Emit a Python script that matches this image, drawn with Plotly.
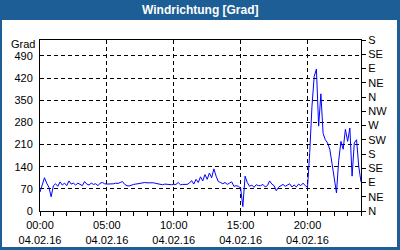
import pandas as pd
import plotly.graph_objects as go

# Wind direction (degrees), 10-minute samples, 04.02.16 00:00 .. 05.02.16 00:00
times = pd.date_range("2016-02-04 00:00", periods=145, freq="10min")
direction = [
    60, 80, 105, 88, 75, 45, 80, 86, 78, 92, 82, 88, 80, 95, 85, 88, 82, 88, 85, 80,
    93, 85, 82, 88, 84, 86, 80, 88, 90, 86, 85,
    85, 84, 86, 88, 87, 90, 93, 84, 80, 79, 82, 84, 85, 86, 88, 90, 90, 89, 89, 90,
    89, 87, 86, 84, 83, 85, 84, 83, 83, 84,
    84, 90, 83, 84, 83, 84, 88, 96, 85, 100, 90, 108, 95, 115, 100, 120, 105, 133, 110, 93,
    90, 86, 90, 84, 88, 92, 78, 80, 78, 72,
    14, 110, 90, 78, 82, 75, 83, 80, 80, 84, 76, 80, 95, 85, 80, 64, 75, 80, 84, 78,
    82, 86, 76, 82, 76, 85, 80, 88, 80, 75,
    185, 330, 425, 448, 268, 370, 245, 225, 215, 195, 150, 100, 57, 160, 220, 195, 258, 220, 262, 110,
    215, 225, 140, 92,
]

title_text = "Windrichtung [Grad]"
y_unit = "Grad"
y_ticks = [0, 70, 140, 210, 280, 350, 420, 490]
compass_vals = [0, 45, 90, 135, 180, 225, 270, 315, 360, 405, 450, 495, 540]
compass_text = ["N", "NE", "E", "SE", "S", "SW", "W", "NW", "N", "NE", "E", "SE", "S"]
x_tick_times = ["2016-02-04 00:00", "2016-02-04 05:00", "2016-02-04 10:00",
                "2016-02-04 15:00", "2016-02-04 20:00"]
x_tick_text = ["00:00<br>04.02.16", "05:00<br>04.02.16", "10:00<br>04.02.16",
               "15:00<br>04.02.16", "20:00<br>04.02.16"]

W, H = 400, 250
L, R, T, B = 40, 39, 40, 39
pw, ph = W - L - R, H - T - B

def px_x(x):
    return (x - L) / pw

def px_y(y):
    return (H - B - y) / ph

FONT = "Liberation Sans, Arial, sans-serif"
BLUE = "#1c5e95"

fig = go.Figure()
fig.add_trace(go.Scatter(x=times, y=direction, mode="lines",
                         line=dict(color="#0000ff", width=1), showlegend=False,
                         hoverinfo="skip"))
# empty trace so the compass axis on the right is drawn
fig.add_trace(go.Scatter(x=[], y=[], yaxis="y2", mode="lines", showlegend=False,
                         hoverinfo="skip"))

fig.update_layout(
    width=W, height=H,
    margin=dict(l=L, r=R, t=T, b=B, pad=0, autoexpand=False),
    paper_bgcolor=BLUE,
    plot_bgcolor="white",
    font=dict(family=FONT, size=11, color="black"),
    showlegend=False,
    xaxis=dict(
        range=["2016-02-04 00:00", "2016-02-05 00:00"],
        tickvals=x_tick_times, ticktext=x_tick_text,
        ticks="outside", ticklen=4, tickcolor="black", tickwidth=1,
        showline=True, linecolor="black", linewidth=1, mirror=True,
        showgrid=True, gridcolor="black", gridwidth=1, griddash="4px,3px",
        minor=dict(dtick=3600000, ticks="outside", ticklen=4, tickcolor="black",
                   showgrid=False),
        zeroline=False, fixedrange=True, automargin=False,
    ),
    yaxis=dict(
        range=[0, 540],
        tickvals=y_ticks,
        ticks="", showline=True, linecolor="black", linewidth=1,
        showgrid=True, gridcolor="black", gridwidth=1, griddash="4px,3px",
        zeroline=False, fixedrange=True, ticklabelstandoff=4, automargin=False,
    ),
    yaxis2=dict(
        range=[0, 540], overlaying="y", side="right",
        tickvals=compass_vals, ticktext=compass_text,
        ticks="outside", ticklen=4, tickcolor="black",
        showline=True, linecolor="black", linewidth=1,
        showgrid=False, zeroline=False, fixedrange=True, automargin=False,
    ),
    shapes=[dict(type="rect", xref="paper", yref="paper", layer="below",
                 x0=px_x(2), x1=px_x(397), y0=px_y(247), y1=px_y(20),
                 fillcolor="white", line=dict(width=0))],
    annotations=[
        dict(text="<b>" + title_text + "</b>", xref="paper", yref="paper",
             x=px_x(200), y=px_y(10), xanchor="center", yanchor="middle",
             showarrow=False, font=dict(family=FONT, size=12, color="white")),
        dict(text=y_unit, xref="paper", yref="paper",
             x=px_x(37), y=px_y(44.5), xanchor="right", yanchor="middle",
             showarrow=False, font=dict(family=FONT, size=11, color="black")),
    ],
)

fig.write_html("out.html", config={"displayModeBar": False})
